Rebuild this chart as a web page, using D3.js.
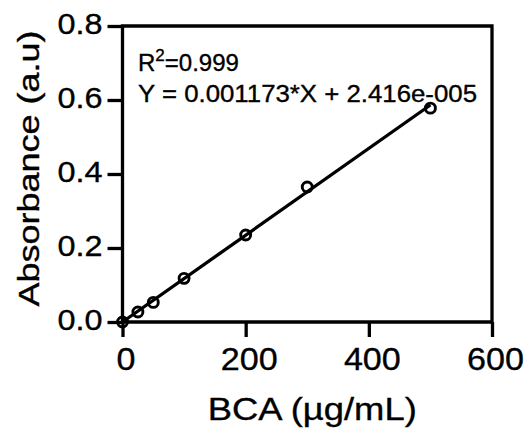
<!DOCTYPE html>
<html>
<head>
<meta charset="utf-8">
<script src="https://cdn.jsdelivr.net/npm/d3@7"></script>
<style>
  html, body { margin: 0; padding: 0; background: #fff; }
  svg { display: block; }
  text { font-family: "Liberation Sans", Arial, sans-serif; fill: #000; stroke: #000; stroke-width: 0.35px; }
</style>
</head>
<body>
<svg id="chart" width="531" height="434"></svg>
<script>
// ---- data ----
const concentrations = [0, 25, 50, 100, 200, 300, 500];
const absorbances = [0, 0.027, 0.053, 0.118, 0.235, 0.365, 0.578];
const fitSlope = 0.001173;
const fitIntercept = 2.416e-5;
const fitRange = [0, 500];
const xTicks = [0, 200, 400, 600];
const yTicks = [0, 0.2, 0.4, 0.6, 0.8];
const xLabel = "BCA (µg/mL)";
const yLabel = "Absorbance (a.u)";
const r2Text = "0.999";
const eqText = "Y = 0.001173*X + 2.416e-005";

// ---- layout ----
const svg = d3.select("#chart");
const L = 122.5, R = 492, T = 26, B = 322;
const x = d3.scaleLinear().domain([0, 600]).range([L, R]);
const y = d3.scaleLinear().domain([0, 0.8]).range([B, T]);
const lw = 3.3;

function stretch(sel, w) {
  sel.attr("textLength", w).attr("lengthAdjust", "spacingAndGlyphs");
}
function widen(sel, k) {
  sel.each(function () {
    const n = this.getComputedTextLength();
    d3.select(this).attr("textLength", n * k).attr("lengthAdjust", "spacingAndGlyphs");
  });
}

// frame (top & right)
svg.append("path")
  .attr("d", `M${L},${T}H${R}V${B}`)
  .attr("fill", "none").attr("stroke", "#000").attr("stroke-width", lw)
  .attr("stroke-linecap", "square");

// x axis
const gx = svg.append("g").attr("transform", `translate(0,${B})`)
  .call(d3.axisBottom(x).tickValues(xTicks).tickFormat(d3.format("d"))
    .tickSize(15).tickPadding(11).tickSizeOuter(0));
gx.select(".domain").attr("stroke-width", lw).attr("d", `M${L},0H${R}`);
gx.selectAll(".tick line").attr("stroke-width", lw);
gx.selectAll(".tick text").style("font-size", "31px").attr("dy", "0.71em").attr("dx", 3)
  .call(widen, 1.1);

// y axis
const gy = svg.append("g").attr("transform", `translate(${L},0)`)
  .call(d3.axisLeft(y).tickValues(yTicks).tickFormat(d3.format(".1f"))
    .tickSize(15).tickPadding(5).tickSizeOuter(0));
gy.select(".domain").attr("stroke-width", lw).attr("d", `M0,${T}V${B}`);
gy.selectAll(".tick line").attr("stroke-width", lw);
gy.selectAll(".tick text").style("font-size", "29px").attr("dy", "0.26em")
  .call(stretch, 45);

// axis titles
svg.append("text").attr("x", (L + R) / 2 + 5).attr("y", 420)
  .attr("text-anchor", "middle").style("font-size", "32px")
  .text(xLabel).call(stretch, 209);

svg.append("text")
  .attr("transform", `translate(39,${168.5}) rotate(-90)`)
  .attr("text-anchor", "middle").style("font-size", "30px")
  .text(yLabel).call(stretch, 276);

// fit line
svg.append("line")
  .attr("x1", x(fitRange[0])).attr("y1", y(fitSlope * fitRange[0] + fitIntercept))
  .attr("x2", x(fitRange[1])).attr("y2", y(fitSlope * fitRange[1] + fitIntercept))
  .attr("stroke", "#000").attr("stroke-width", 3.3);

// points
svg.append("g").selectAll("circle")
  .data(concentrations.map((c, i) => [c, absorbances[i]]))
  .join("circle")
  .attr("cx", d => x(d[0])).attr("cy", d => y(d[1]))
  .attr("r", 5).attr("fill", "none")
  .attr("stroke", "#000").attr("stroke-width", 2.9);

// annotation
const r2 = svg.append("text").attr("x", 138).attr("y", 71).style("font-size", "24px");
r2.append("tspan").text("R");
r2.append("tspan").attr("dy", -10).style("font-size", "17px").text("2");
r2.append("tspan").attr("dy", 10).text("=" + r2Text);

svg.append("text").attr("x", 138).attr("y", 101.5).style("font-size", "24px")
  .text(eqText).call(stretch, 339);
</script>
</body>
</html>
